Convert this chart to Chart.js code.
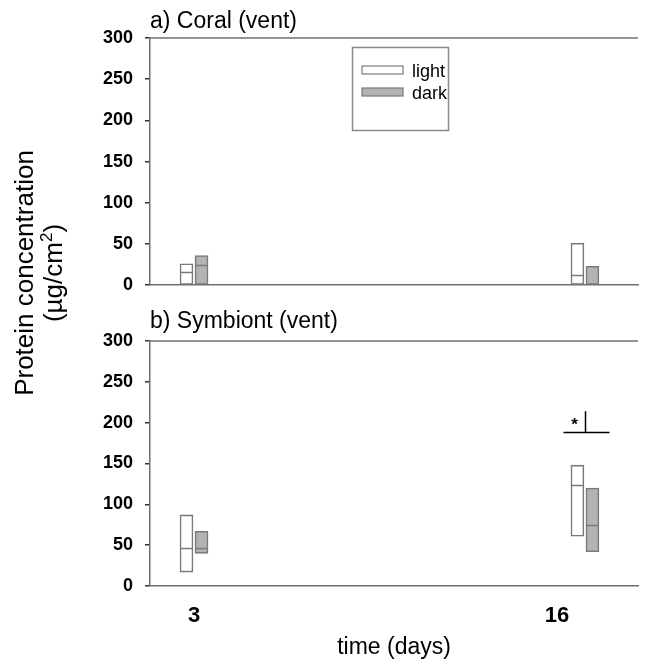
<!DOCTYPE html>
<html><head><meta charset="utf-8">
<script src="https://cdn.jsdelivr.net/npm/chart.js@4.4.0/dist/chart.umd.min.js"></script>
<style>
html,body{margin:0;padding:0;background:#fff;}
#wrap{position:relative;width:645px;height:666px;overflow:hidden;}
#cA{position:absolute;left:0;top:0;}
#cB{position:absolute;left:0;top:300px;}
#ytitle{position:absolute;left:-160px;top:243px;width:400px;height:60px;line-height:29px;font-family:"Liberation Sans",Arial,sans-serif;font-size:26px;color:#000;text-align:center;transform:rotate(-90deg);white-space:nowrap;}
#ytitle sup{font-size:17px;line-height:0;vertical-align:10px;}
</style></head>
<body><div id="wrap">
<canvas id="cA" width="645" height="308"></canvas>
<canvas id="cB" width="645" height="366"></canvas>
<div id="ytitle">Protein concentration<br>(µg/cm<sup>2</sup>)</div>
</div>
<script>
// ---- data ----
const dayLabels = [3, 16];          // x tick labels
const dayPositions = [3, 17];       // where box groups sit on the time axis
const yTicks = [0, 50, 100, 150, 200, 250, 300];
const seriesNames = ['light', 'dark'];

const coralLightLow = [0, 0];
const coralLightHigh = [26, 51];
const coralLightMedian = [16.5, 12.5];
const coralDarkLow = [0, 0];
const coralDarkHigh = [36, 23];
const coralDarkMedian = [24, null];

const symLightLow = [17, 61];
const symLightHigh = [87, 148];
const symLightMedian = [46, 124];
const symDarkLow = [40, 42];
const symDarkHigh = [67, 120];
const symDarkMedian = [46, 75];

const sigBarValue = 189;   // significance bracket level (bottom panel, day 16)
const sigTickTop = 214;

// ---- styles ----
const AXIS = '#6f6f6f';
const BOX = '#7a7a7a';
const LIGHT_FILL = '#ffffff';
const DARK_FILL = '#b3b3b3';
const FONT = '"Liberation Sans", Arial, sans-serif';
const XMIN = 1.4242, XMAX = 18.90;
const GROUP_OFF = 0.269; // half spacing between the two boxes, in days

function makeDatasets(lowL, highL, lowD, highD) {
  return [
    { label: seriesNames[0], data: dayPositions.map((p, i) => ({ x: p - GROUP_OFF, y: [lowL[i], highL[i]] })),
      backgroundColor: LIGHT_FILL, borderColor: BOX, borderWidth: 1.6, borderSkipped: false,
      barThickness: 13, grouped: false },
    { label: seriesNames[1], data: dayPositions.map((p, i) => ({ x: p + GROUP_OFF, y: [lowD[i], highD[i]] })),
      backgroundColor: DARK_FILL, borderColor: BOX, borderWidth: 1.6, borderSkipped: false,
      barThickness: 13, grouped: false }
  ];
}

const panelPlugin = {
  id: 'panel',
  afterDatasetsDraw(chart, args, opts) {
    const { ctx, chartArea: a, scales: { y } } = chart;
    ctx.save();
    ctx.strokeStyle = AXIS; ctx.lineWidth = 1.5;
    ctx.beginPath(); ctx.moveTo(a.left, a.top); ctx.lineTo(a.right, a.top); ctx.stroke();
    ctx.fillStyle = '#000'; ctx.font = '23px ' + FONT; ctx.textAlign = 'left'; ctx.textBaseline = 'alphabetic';
    ctx.fillText(opts.title, a.left, opts.titleY);
    ctx.strokeStyle = BOX; ctx.lineWidth = 1.5;
    opts.medians.forEach((arr, di) => {
      const meta = chart.getDatasetMeta(di);
      arr.forEach((m, j) => {
        if (m == null) return;
        const el = meta.data[j];
        const py = Math.round(y.getPixelForValue(m)) + 0.5;
        ctx.beginPath(); ctx.moveTo(el.x - el.width / 2, py); ctx.lineTo(el.x + el.width / 2, py); ctx.stroke();
      });
    });
    if (opts.legend) {
      ctx.strokeStyle = '#8a8a8a'; ctx.lineWidth = 1.5;
      ctx.strokeRect(352.5, 47.5, 96, 83);
      const fills = [LIGHT_FILL, DARK_FILL];
      ctx.font = '18px ' + FONT; ctx.fillStyle = '#000'; ctx.textBaseline = 'alphabetic';
      seriesNames.forEach((n, i) => {
        const yy = 66 + i * 22;
        ctx.fillStyle = fills[i]; ctx.fillRect(362, yy, 41, 8);
        ctx.strokeStyle = BOX; ctx.lineWidth = 1.2; ctx.strokeRect(362, yy, 41, 8);
        ctx.fillStyle = '#000'; ctx.fillText(n, 412, yy + 11);
      });
    }
    if (opts.sig) {
      const x = chart.scales.x;
      const cx = Math.round(x.getPixelForValue(dayPositions[1])) + 0.5;
      const py = Math.round(y.getPixelForValue(sigBarValue)) + 0.5;
      const pt = y.getPixelForValue(sigTickTop);
      ctx.strokeStyle = '#000'; ctx.lineWidth = 1.5;
      ctx.beginPath(); ctx.moveTo(cx - 22, py); ctx.lineTo(cx + 24, py); ctx.stroke();
      ctx.beginPath(); ctx.moveTo(cx, py); ctx.lineTo(cx, pt); ctx.stroke();
      ctx.font = 'bold 17px ' + FONT; ctx.fillStyle = '#000'; ctx.textAlign = 'center'; ctx.textBaseline = 'middle';
      ctx.fillText('*', cx - 11, py - 7);
    }
    ctx.restore();
  }
};

function yScale() {
  return {
    min: 0, max: 300,
    afterBuildTicks: s => { s.ticks = yTicks.map(v => ({ value: v })); },
    afterFit: s => { s.width = 150; },
    border: { display: true, color: AXIS, width: 1.5 },
    grid: { display: true, drawOnChartArea: false, drawTicks: true, tickLength: 5, color: '#333', lineWidth: 1.5 },
    ticks: { padding: 12, color: '#000', font: { family: FONT, size: 18, weight: 'bold' } }
  };
}

function xScale(showLabels, h) {
  return {
    type: 'linear', min: XMIN, max: XMAX, offset: false,
    afterBuildTicks: s => { s.ticks = dayLabels.map(v => ({ value: v })); },
    afterFit: s => { s.height = h; },
    border: { display: true, color: AXIS, width: 1.5 },
    grid: { display: false, drawOnChartArea: false, drawTicks: false },
    ticks: { display: showLabels, padding: 17, color: '#000', font: { family: FONT, size: 22, weight: 'bold' },
      callback: v => String(v) },
    title: { display: showLabels, text: 'time (days)', color: '#000', font: { family: FONT, size: 23 }, padding: { top: 0, bottom: 5 } }
  };
}

function makeChart(id, datasets, panelOpts, showX, padTop, xh) {
  return new Chart(document.getElementById(id), {
    type: 'bar',
    data: { datasets },
    options: {
      responsive: false, animation: false, devicePixelRatio: 1,
      layout: { padding: { left: 0, right: 7, top: padTop, bottom: 0 } },
      scales: { x: xScale(showX, xh), y: yScale() },
      plugins: { legend: { display: false }, tooltip: { enabled: false }, title: { display: false }, panel: panelOpts }
    },
    plugins: [panelPlugin]
  });
}

makeChart('cA', makeDatasets(coralLightLow, coralLightHigh, coralDarkLow, coralDarkHigh),
  { title: 'a) Coral (vent)', titleY: 28, medians: [coralLightMedian, coralDarkMedian], legend: true }, false, 38, 8);
makeChart('cB', makeDatasets(symLightLow, symLightHigh, symDarkLow, symDarkHigh),
  { title: 'b) Symbiont (vent)', titleY: 28, medians: [symLightMedian, symDarkMedian], sig: true }, true, 41, 80);
</script>
</body></html>
